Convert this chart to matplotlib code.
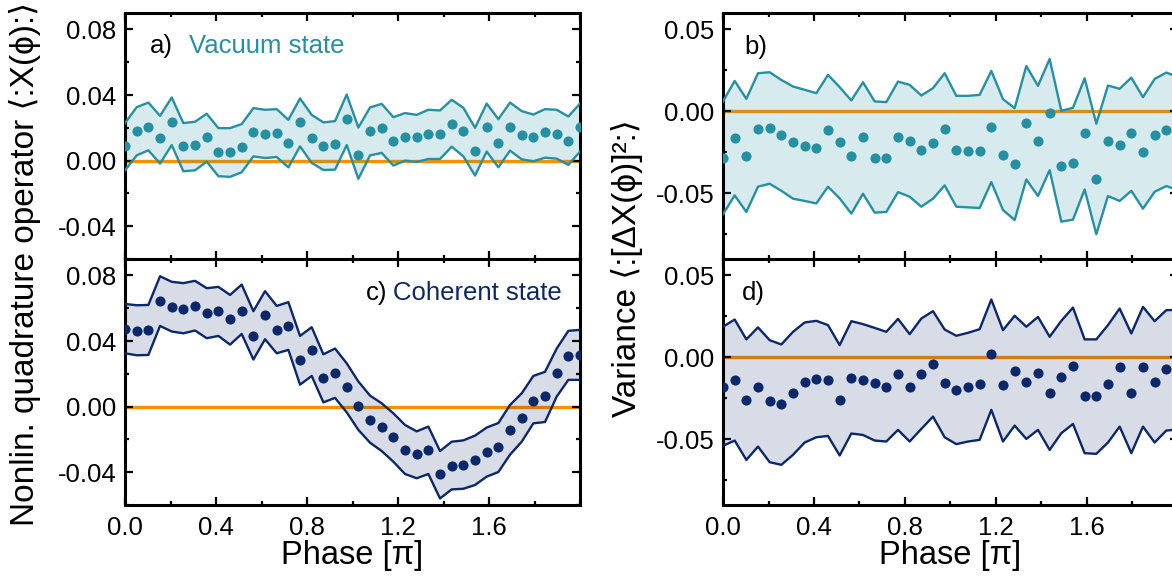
import numpy as np
import matplotlib
matplotlib.use("Agg")
import matplotlib.pyplot as plt
from matplotlib.ticker import MultipleLocator, FormatStrFormatter

plt.rcParams['font.family'] = ['Liberation Sans', 'DejaVu Sans']
plt.rcParams['axes.unicode_minus'] = False

#phase in units of pi, 40 settings
phase = np.linspace(0, 2, 40)

#a) vacuum state, <:X:>
vac_mean = [0.0087, 0.0182, 0.0207, 0.0136, 0.0237, 0.0087, 0.0093, 0.0146, 0.0055, 0.0051,
            0.0081, 0.0174, 0.0162, 0.0170, 0.0107, 0.0233, 0.0136, 0.0087, 0.0101, 0.0255,
            0.0036, 0.0182, 0.0200, 0.0117, 0.0146, 0.0142, 0.0160, 0.0160, 0.0225, 0.0178,
            0.0057, 0.0203, 0.0107, 0.0207, 0.0158, 0.0142, 0.0174, 0.0162, 0.0119, 0.0203]
vac_upper = [0.0229, 0.0326, 0.0354, 0.0273, 0.0385, 0.0229, 0.0237, 0.0286, 0.0198, 0.0198,
             0.0223, 0.0320, 0.0310, 0.0314, 0.0249, 0.0379, 0.0279, 0.0233, 0.0241, 0.0403,
             0.0202, 0.0324, 0.0346, 0.0265, 0.0290, 0.0279, 0.0310, 0.0306, 0.0371, 0.0322,
             0.0200, 0.0348, 0.0253, 0.0354, 0.0302, 0.0281, 0.0314, 0.0310, 0.0269, 0.0348]
vac_lower = [-0.0059, 0.0032, 0.0063, -0.0018, 0.0095, -0.0065, -0.0059, -0.0006, -0.0095, -0.0099,
             -0.0071, 0.0026, 0.0016, 0.0022, -0.0041, 0.0087, -0.0014, -0.0057, -0.0055, 0.0095,
             -0.0111, 0.0032, 0.0047, -0.0030, 0.0000, -0.0008, 0.0010, 0.0010, 0.0085, 0.0026,
             -0.0091, 0.0055, -0.0041, 0.0061, 0.0008, -0.0004, 0.0018, 0.0012, -0.0026, 0.0055]

#c) coherent state, <:X:>
coh_mean = [0.0472, 0.0464, 0.0468, 0.0645, 0.0606, 0.0598, 0.0612, 0.0570, 0.0580, 0.0533,
            0.0586, 0.0431, 0.0559, 0.0468, 0.0492, 0.0283, 0.0346, 0.0177, 0.0207, 0.0120,
            0.0006, -0.0079, -0.0122, -0.0187, -0.0264, -0.0287, -0.0264, -0.0409, -0.0360, -0.0358,
            -0.0327, -0.0275, -0.0248, -0.0144, -0.0067, 0.0035, 0.0063, 0.0207, 0.0309, 0.0317]
coh_upper = [0.0626, 0.0618, 0.0620, 0.0795, 0.0761, 0.0753, 0.0767, 0.0722, 0.0730, 0.0681,
             0.0744, 0.0582, 0.0704, 0.0614, 0.0637, 0.0431, 0.0484, 0.0319, 0.0354, 0.0264,
             0.0153, 0.0067, 0.0020, -0.0041, -0.0112, -0.0151, -0.0122, -0.0271, -0.0214, -0.0206,
             -0.0177, -0.0128, -0.0100, 0.0010, 0.0081, 0.0187, 0.0212, 0.0354, 0.0462, 0.0468]
coh_lower = [0.0325, 0.0313, 0.0315, 0.0492, 0.0458, 0.0447, 0.0464, 0.0417, 0.0431, 0.0378,
             0.0443, 0.0287, 0.0411, 0.0325, 0.0346, 0.0134, 0.0187, 0.0026, 0.0053, -0.0035,
             -0.0142, -0.0220, -0.0271, -0.0336, -0.0411, -0.0437, -0.0411, -0.0560, -0.0505, -0.0501,
             -0.0478, -0.0427, -0.0399, -0.0293, -0.0214, -0.0102, -0.0094, 0.0061, 0.0163, 0.0163]

#b) vacuum state, variance
vac_var = [-0.0287, -0.0162, -0.0269, -0.0107, -0.0099, -0.0142, -0.0186, -0.0208, -0.0225, -0.0113,
           -0.0186, -0.0273, -0.0158, -0.0281, -0.0281, -0.0158, -0.0178, -0.0237, -0.0192, -0.0105,
           -0.0237, -0.0241, -0.0241, -0.0093, -0.0263, -0.0322, -0.0071, -0.0178, -0.0012, -0.0334,
           -0.0316, -0.0134, -0.0411, -0.0178, -0.0204, -0.0134, -0.0249, -0.0142, -0.0111, -0.0130]
vac_var_upper = [0.0061, 0.0186, 0.0077, 0.0233, 0.0239, 0.0192, 0.0152, 0.0132, 0.0111, 0.0223,
                 0.0148, 0.0067, 0.0178, 0.0061, 0.0057, 0.0182, 0.0162, 0.0097, 0.0142, 0.0233,
                 0.0095, 0.0095, 0.0101, 0.0247, 0.0075, 0.0020, 0.0277, 0.0156, 0.0320, 0.0004,
                 0.0022, 0.0202, -0.0075, 0.0158, 0.0138, 0.0206, 0.0087, 0.0198, 0.0237, 0.0210]
vac_var_lower = [-0.0627, -0.0512, -0.0613, -0.0459, -0.0441, -0.0484, -0.0532, -0.0546, -0.0561, -0.0459,
                 -0.0530, -0.0623, -0.0502, -0.0617, -0.0613, -0.0492, -0.0520, -0.0581, -0.0532, -0.0451,
                 -0.0581, -0.0585, -0.0589, -0.0431, -0.0601, -0.0662, -0.0415, -0.0516, -0.0358, -0.0672,
                 -0.0660, -0.0476, -0.0749, -0.0516, -0.0546, -0.0484, -0.0593, -0.0490, -0.0455, -0.0480]

#d) coherent state, variance
coh_var = [-0.0178, -0.0138, -0.0260, -0.0178, -0.0266, -0.0286, -0.0219, -0.0152, -0.0132, -0.0138,
           -0.0260, -0.0124, -0.0138, -0.0158, -0.0178, -0.0103, -0.0183, -0.0101, -0.0043, -0.0158,
           -0.0199, -0.0178, -0.0164, 0.0018, -0.0170, -0.0081, -0.0148, -0.0097, -0.0215, -0.0118,
           -0.0051, -0.0235, -0.0235, -0.0164, -0.0061, -0.0219, -0.0057, -0.0148, -0.0071, -0.0080]
coh_var_upper = [0.0187, 0.0231, 0.0110, 0.0183, 0.0105, 0.0079, 0.0156, 0.0213, 0.0223, 0.0197,
                 0.0075, 0.0221, 0.0203, 0.0180, 0.0156, 0.0235, 0.0142, 0.0237, 0.0282, 0.0170,
                 0.0132, 0.0150, 0.0172, 0.0353, 0.0166, 0.0254, 0.0187, 0.0247, 0.0126, 0.0223,
                 0.0304, 0.0110, 0.0110, 0.0197, 0.0298, 0.0146, 0.0308, 0.0221, 0.0288, 0.0290]
coh_var_lower = [-0.0539, -0.0507, -0.0625, -0.0544, -0.0639, -0.0655, -0.0594, -0.0519, -0.0487, -0.0479,
                 -0.0598, -0.0464, -0.0473, -0.0507, -0.0513, -0.0442, -0.0513, -0.0436, -0.0361, -0.0487,
                 -0.0529, -0.0513, -0.0503, -0.0320, -0.0513, -0.0416, -0.0497, -0.0442, -0.0564, -0.0462,
                 -0.0406, -0.0584, -0.0588, -0.0519, -0.0422, -0.0584, -0.0422, -0.0519, -0.0446, -0.0440]

teal = '#2690a3'
navy = '#0c2868'
orange = '#f39200'

fig = plt.figure(figsize=(11.72, 5.77), dpi=100)

#axes positions (right panels run off the right edge like the original)
axA = fig.add_axes([0.1067, 0.5511, 0.3882, 0.4263])
axC = fig.add_axes([0.1067, 0.1248, 0.3882, 0.4263])
axB = fig.add_axes([0.6169, 0.5511, 0.3882, 0.4263])
axD = fig.add_axes([0.6169, 0.1248, 0.3882, 0.4263])

def draw_panel(ax, mean, upper, lower, color, alpha):
    ax.axhline(0, color=orange, lw=2.4, zorder=1)
    ax.fill_between(phase, lower, upper, color=color, alpha=alpha, lw=0, zorder=2)
    ax.plot(phase, upper, color=color, lw=1.7, zorder=3)
    ax.plot(phase, lower, color=color, lw=1.7, zorder=3)
    ax.plot(phase, mean, 'o', color=color, ms=7.3, mec='none', zorder=4)
    ax.set_xlim(0, 2)
    ax.xaxis.set_major_locator(MultipleLocator(0.4))
    ax.xaxis.set_minor_locator(MultipleLocator(0.2))
    ax.xaxis.set_major_formatter(FormatStrFormatter('%.1f'))
    ax.tick_params(which='both', direction='in', top=True, right=True, width=1.6,
                   labelsize=18.5, pad=6)
    ax.tick_params(which='major', length=6)
    ax.tick_params(which='minor', length=3)
    ax.tick_params(axis='x', pad=8)
    for s in ax.spines.values():
        s.set_linewidth(2.2)

draw_panel(axA, vac_mean, vac_upper, vac_lower, teal, 0.18)
draw_panel(axC, coh_mean, coh_upper, coh_lower, navy, 0.16)
draw_panel(axB, vac_var, vac_var_upper, vac_var_lower, teal, 0.18)
draw_panel(axD, coh_var, coh_var_upper, coh_var_lower, navy, 0.16)

for ax in [axA, axC]:
    ax.set_ylim(-0.06, 0.09)
    ax.yaxis.set_major_locator(MultipleLocator(0.04))
    ax.yaxis.set_minor_locator(MultipleLocator(0.02))
    ax.yaxis.set_major_formatter(FormatStrFormatter('%.2f'))
for ax in [axB, axD]:
    ax.set_ylim(-0.09, 0.06)
    ax.yaxis.set_major_locator(MultipleLocator(0.05))
    ax.yaxis.set_minor_locator(MultipleLocator(0.025))
    ax.yaxis.set_major_formatter(FormatStrFormatter('%.2f'))

#only bottom panels get x tick labels, 2.0 is hidden at the edge
for ax in [axA, axB]:
    ax.tick_params(axis='x', labelbottom=False)
for ax in [axC, axD]:
    ax.set_xticks([0, 0.4, 0.8, 1.2, 1.6])
    ax.set_xlabel('Phase [π]', fontsize=23.5, labelpad=0)

#panel labels
axA.text(0.055, 0.866, 'a)', transform=axA.transAxes, fontsize=18.5, va='center')
axA.text(0.141, 0.866, 'Vacuum state', transform=axA.transAxes, fontsize=18.5, va='center', color=teal)
axC.text(0.53, 0.862, 'c)', transform=axC.transAxes, fontsize=18.5, va='center')
axC.text(0.589, 0.862, 'Coherent state', transform=axC.transAxes, fontsize=18.5, va='center', color=navy)
axB.text(0.046, 0.862, 'b)', transform=axB.transAxes, fontsize=18.5, va='center')
axD.text(0.042, 0.862, 'd)', transform=axD.transAxes, fontsize=18.5, va='center')

#shared y labels
fig.text(25 / 1172, 1 - 264 / 577, 'Nonlin. quadrature operator \u27e8:X(\u03d5):\u27e9',
         rotation=90, ha='center', va='center', fontsize=24)
fig.text(627 / 1172, 1 - 268 / 577, 'Variance \u27e8:[\u0394X(\u03d5)]\u00b2:\u27e9',
         rotation=90, ha='center', va='center', fontsize=24)

plt.savefig('out.png', dpi=100)
